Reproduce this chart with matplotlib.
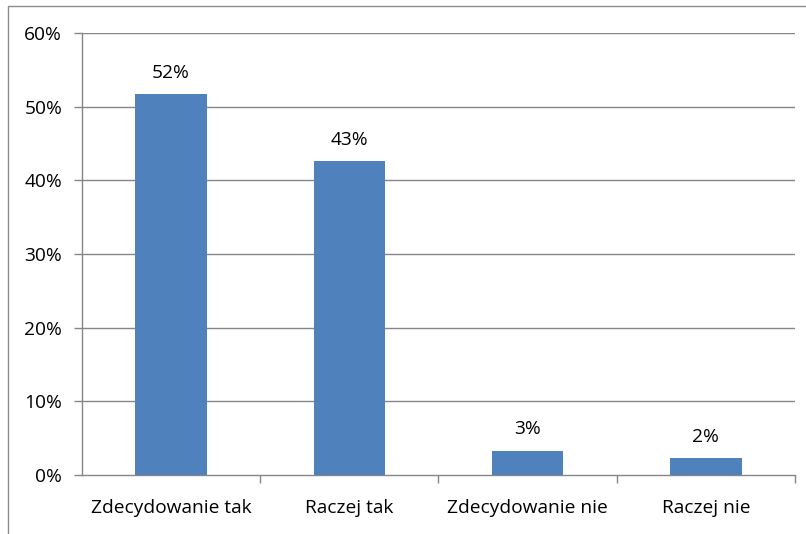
import matplotlib
matplotlib.use("Agg")
import matplotlib.pyplot as plt
from matplotlib.patches import Rectangle

# Survey answers and their shares (in %)
categories = ["Zdecydowanie tak", "Raczej tak", "Zdecydowanie nie", "Raczej nie"]
shares = [51.7, 42.6, 3.3, 2.3]
y_ticks = [0, 10, 20, 30, 40, 50, 60]

BAR = "#4F81BD"
GRID = "#868686"
TXT = "#000000"
FS = 13.8

plt.rcParams["font.family"] = ["Open Sans", "DejaVu Sans"]

W, H = 806, 534
fig = plt.figure(figsize=(W / 100, H / 100), dpi=100)

# chart frame (runs off the right and bottom edges)
fig.patches.append(Rectangle((8 / W, -0.1), 1.2, (H - 6) / H + 0.1,
                             transform=fig.transFigure, fill=False,
                             edgecolor="#8c8c8c", lw=1.0))

left, right, top, bottom = 82, 795, 33, 475
ax = fig.add_axes([left / W, 1 - bottom / H, (right - left) / W, (bottom - top) / H])

x = range(len(categories))
ax.bar(x, shares, width=0.4, color=BAR, zorder=3)
for xi, v in zip(x, shares):
    ax.text(xi, v + 1.7, f"{v:.0f}%", ha="center", va="bottom",
            fontsize=FS, color=TXT)

ax.set_xlim(-0.5, len(categories) - 0.5)
ax.set_ylim(0, 60)
ax.set_yticks(y_ticks)
ax.set_yticklabels([f"{t}%" for t in y_ticks])
for t in y_ticks[1:]:
    ax.axhline(t, color=GRID, lw=1.0, zorder=1)

ax.set_xticks(list(x))
ax.set_xticklabels(categories)
# category separators below the axis
ax.set_xticks([i + 0.5 for i in x], minor=True)
ax.tick_params(axis="x", which="major", length=0, pad=17, labelsize=FS, labelcolor=TXT)
ax.tick_params(axis="x", which="minor", length=5.8, color=GRID, width=1.0)
ax.tick_params(axis="y", length=5.8, color=GRID, width=1.0, pad=8.5, labelsize=FS, labelcolor=TXT)

for s in ["top", "right"]:
    ax.spines[s].set_visible(False)
for s in ["left", "bottom"]:
    ax.spines[s].set_color(GRID)
    ax.spines[s].set_linewidth(1.0)

fig.savefig("out.png", dpi=100)
